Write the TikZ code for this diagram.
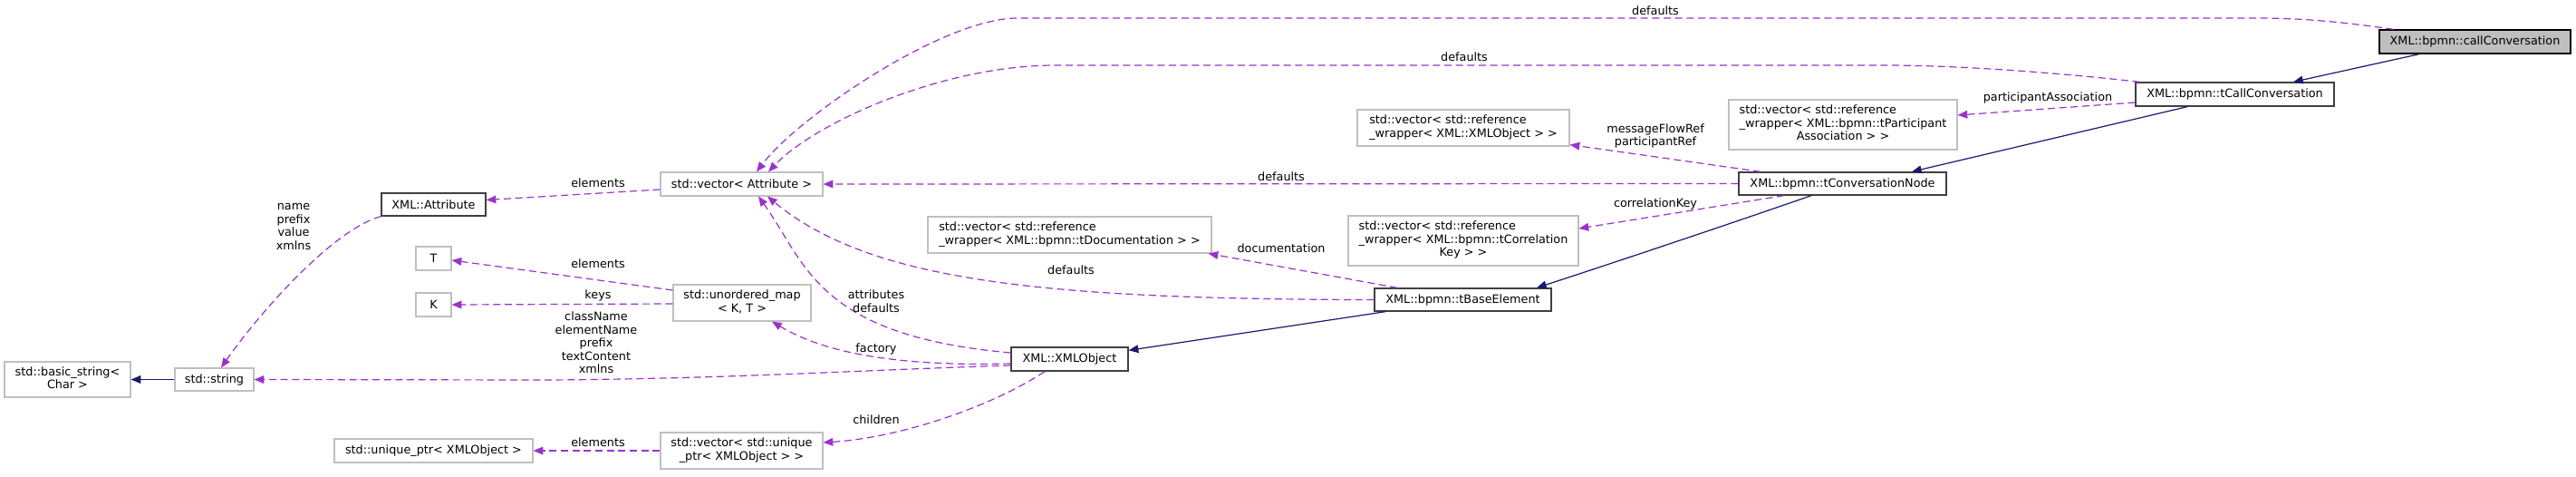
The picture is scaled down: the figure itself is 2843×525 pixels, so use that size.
\documentclass[tikz,border=0pt]{standalone}
\usepackage{fontspec}
\setmainfont{DejaVu Sans}
\usetikzlibrary{arrows.meta,calc}
\definecolor{depc}{HTML}{9A32CD}
\definecolor{inhc}{HTML}{191970}
\definecolor{gbord}{HTML}{BFBFBF}
\definecolor{dbord}{HTML}{404040}
\newcommand{\dxbox}[7]{\node[#6, minimum width={(#4-#2)*0.75pt}, minimum height={(#5-#3)*0.75pt}] (#1) at ({(#2+#4)/2},{(#3+#5)/2}) {#7};}
\newcommand{\twol}[2]{\begin{tabular}{@{}l@{}}#1\\\multicolumn{1}{@{}c@{}}{#2}\end{tabular}}
\newcommand{\threel}[3]{\begin{tabular}{@{}l@{}}#1\\#2\\\multicolumn{1}{@{}c@{}}{#3}\end{tabular}}
\begin{document}
\begin{tikzpicture}[x=0.75pt,y=-0.75pt,
  every node/.style={font=\fontsize{9.6pt}{10.9pt}\selectfont, inner sep=0pt},
  extbox/.style={draw=gbord, line width=0.9pt, fill=white},
  docbox/.style={draw=dbord, line width=1pt, fill=white},
  curbox/.style={draw=black, line width=1pt, fill=gbord},
  depline/.style={draw=depc, line width=0.9pt, dash pattern=on 6pt off 3.5pt, -{Triangle[length=8pt,width=6.5pt]}},
  inhline/.style={draw=inhc, line width=0.9pt, -{Triangle[length=8pt,width=6.5pt]}},
  lbl/.style={align=center}]
\useasboundingbox[fill=white] (0,0) rectangle (2843,525);
% nodes
\dxbox{bstr}{5}{399}{144}{438}{extbox}{\twol{std::basic\_string<}{Char >}}
\dxbox{str}{193}{406}{280}{431}{extbox}{std::string}
\dxbox{attr}{421}{213}{536}{238}{docbox}{XML::Attribute}
\dxbox{tT}{459}{272}{498}{298}{extbox}{T}
\dxbox{tK}{459}{323}{498}{349}{extbox}{K}
\dxbox{uptr}{369}{484}{588}{510}{extbox}{std::unique\_ptr< XMLObject >}
\dxbox{vattr}{729}{190}{908}{216}{extbox}{std::vector< Attribute >}
\dxbox{umap}{743}{314}{895}{354}{extbox}{\twol{std::unordered\_map}{< K, T >}}
\dxbox{vuptr}{729}{477}{908}{517}{extbox}{\twol{std::vector< std::unique}{\_ptr< XMLObject > >}}
\dxbox{xobj}{1116}{383}{1245}{409}{docbox}{XML::XMLObject}
\dxbox{vdoc}{1024}{239}{1337}{279}{extbox}{\twol{std::vector< std::reference}{\_wrapper< XML::bpmn::tDocumentation > >}}
\dxbox{base}{1517}{318}{1712}{343}{docbox}{XML::bpmn::tBaseElement}
\dxbox{vcorr}{1488}{238}{1742}{293}{extbox}{\threel{std::vector< std::reference}{\_wrapper< XML::bpmn::tCorrelation}{Key > >}}
\dxbox{vxml}{1498}{121}{1732}{161}{extbox}{\twol{std::vector< std::reference}{\_wrapper< XML::XMLObject > >}}
\dxbox{cnode}{1919}{190}{2148}{215}{docbox}{XML::bpmn::tConversationNode}
\dxbox{vpart}{1908}{110}{2160}{165}{extbox}{\threel{std::vector< std::reference}{\_wrapper< XML::bpmn::tParticipant}{Association > >}}
\dxbox{ccall}{2357}{91}{2576}{117}{docbox}{XML::bpmn::tCallConversation}
\dxbox{call}{2626}{33}{2837}{59}{curbox}{XML::bpmn::callConversation}
% inheritance
\draw[inhline] (str.west) -- (bstr.east);
\draw[inhline] ($(base.south)+(-85.5,0)$) -- ($(xobj.north east)+(0,4)$);
\draw[inhline] ($(cnode.south)+(-34.5,0)$) .. controls (1900,250) and (1780,290) .. ($(base.north)+(81.5,0)$);
\draw[inhline] ($(ccall.south)+(-52.5,0)$) -- ($(cnode.north)+(76.5,0)$);
\draw[inhline] ($(call.south)+(-61.5,0)$) -- ($(ccall.north)+(64.5,0)$);
% usage
\draw[depline] ($(vattr.west)+(0,6)$) -- ($(attr.east)+(0,-5)$);
\draw[depline] (attr.south west) .. controls (370,252) and (290,340) .. ($(str.north)+(7.5,0)$);
\draw[depline] ($(umap.west)+(0,-14)$) -- ($(tT.east)+(0,2)$);
\draw[depline] ($(umap.west)+(0,1)$) -- (tK.east);
\draw[depline] ($(xobj.west)+(0,7)$) .. controls (950,408) and (800,418) .. (600,419) -- (str.east);
\draw[depline] (vuptr.west) -- (uptr.east);
\draw[depline] ($(xobj.west)+(0,-7)$) .. controls (900,370) and (890,290) .. ($(vattr.south)+(18.5,0)$);
\draw[depline] ($(xobj.west)+(0,5)$) .. controls (960,405) and (895,380) .. ($(umap.south)+(33,0)$);
\draw[depline] ($(xobj.south)+(-27.5,0)$) .. controls (1100,445) and (1000,482) .. ($(vuptr.east)+(0,-9)$);
\draw[depline] (base.west) .. controls (1150,330) and (960,310) .. ($(vattr.south)+(28.5,0)$);
\draw[depline] ($(base.north)+(-72.5,0)$) -- ($(vdoc.south east)+(-4,0)$);
\draw[depline] (cnode.west) -- (vattr.east);
\draw[depline] ($(cnode.north)+(-90.5,0)$) -- ($(vxml.south east)+(0,-2)$);
\draw[depline] ($(cnode.south)+(-64.5,0)$) -- ($(vcorr.east)+(0,-13.5)$);
\draw[depline] ($(ccall.west)+(0,9)$) -- ($(vpart.east)+(0,-10.5)$);
\draw[depline] ($(ccall.north west)+(5,0)$) .. controls (2250,78) and (2150,72) .. (2079,72) -- (1165,72) .. controls (1040,72) and (900,135) .. ($(vattr.north)+(29.5,0)$);
\draw[depline] ($(call.north west)+(16,0)$) .. controls (2570,22) and (2530,20) .. (2490,20) -- (1123,20) .. controls (1040,20) and (880,130) .. ($(vattr.north)+(16.5,0)$);
% labels
\node[lbl] (l1) at (660,202) {elements};
\node[lbl] (l2) at (324,250) {name\\prefix\\value\\xmlns};
\node[lbl] (l3) at (660,291) {elements};
\node[lbl] (l4) at (660,326) {keys};
\node[lbl] (l5) at (658,378) {className\\elementName\\prefix\\textContent\\xmlns};
\node[lbl] (l6) at (660,488) {elements};
\node[lbl] (l7) at (967,332) {attributes\\defaults};
\node[lbl] (l8) at (967,385) {factory};
\node[lbl] (l9) at (967,463) {children};
\node[lbl] (l10) at (1182,298) {defaults};
\node[lbl] (l11) at (1414,274) {documentation};
\node[lbl] (l12) at (1414,195) {defaults};
\node[lbl] (l13) at (1827,150) {messageFlowRef\\participantRef};
\node[lbl] (l14) at (1827,225) {correlationKey};
\node[lbl] (l15) at (2260,108) {participantAssociation};
\node[lbl] (l16) at (1616,63) {defaults};
\node[lbl] (l17) at (1827,12) {defaults};
\end{tikzpicture}
\end{document}
